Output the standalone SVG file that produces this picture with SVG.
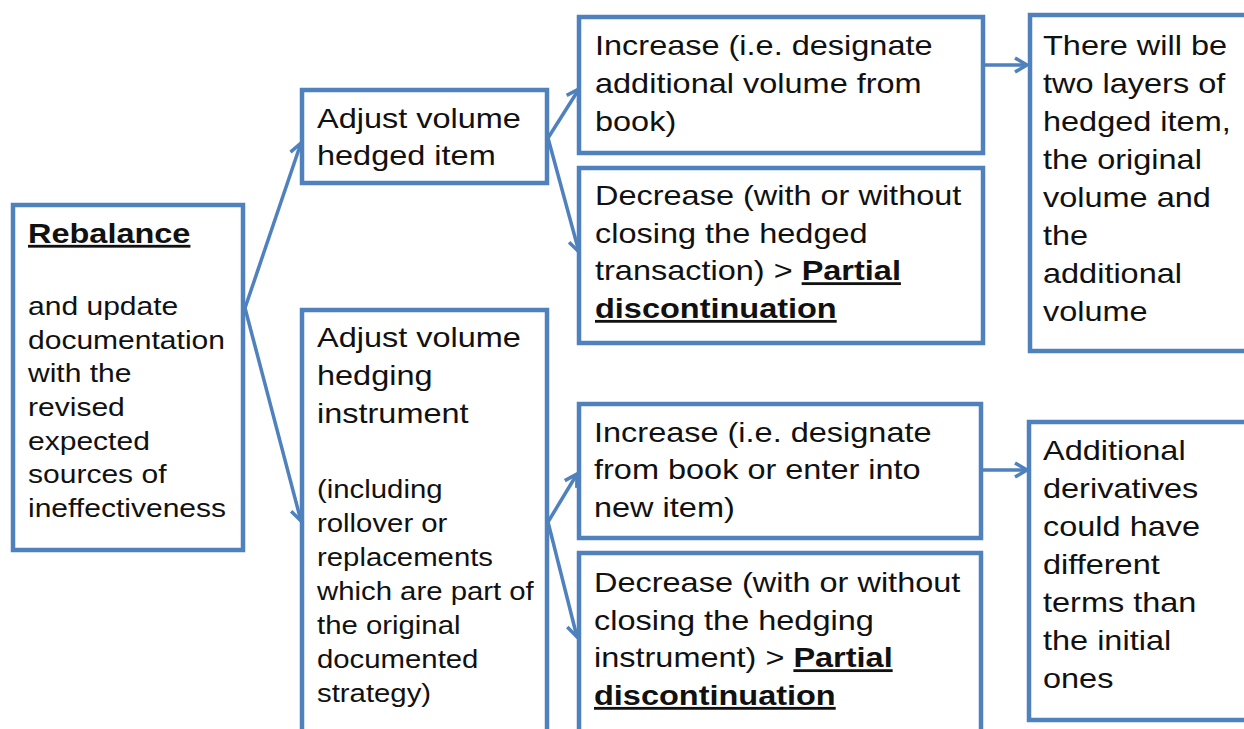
<svg xmlns="http://www.w3.org/2000/svg" width="1244" height="729" viewBox="0 0 1244 729">
<style>
.box{fill:#fff;stroke:#4f81bd;stroke-width:4.5}
.con{fill:none;stroke:#4f81bd;stroke-width:3.5;marker-end:url(#arr)}
.t{font-family:"Liberation Sans",Arial,sans-serif;fill:#111}
.big{font-size:28px}
.small{font-size:25.3px}
.small2{font-size:25.9px}
.b{font-weight:bold;text-decoration:underline}
</style>
<defs>
<marker id="arr" viewBox="-15 -9 18 18" markerWidth="18" markerHeight="18" refX="0" refY="0" orient="auto" markerUnits="userSpaceOnUse">
<path d="M-12,-7 L0,0 L-12,7" fill="none" stroke="#4f81bd" stroke-width="3.5"/>
</marker>
</defs>
<rect width="1244" height="729" fill="#fff"/>
<g id="connectors">
<line class="con" x1="245" y1="308" x2="301" y2="143"/>
<line class="con" x1="245" y1="308" x2="301" y2="521"/>
<line class="con" x1="548" y1="138" x2="579" y2="89"/>
<line class="con" x1="548" y1="138" x2="579" y2="252"/>
<line class="con" x1="985" y1="65" x2="1027" y2="65"/>
<line class="con" x1="548" y1="522" x2="577" y2="474"/>
<line class="con" x1="548" y1="522" x2="577" y2="637"/>
<line class="con" x1="983" y1="470" x2="1027" y2="470"/>
</g>
<g id="rebalance">
<rect class="box" x="13" y="205" width="230" height="345"/>
<text class="t" transform="translate(28,243) scale(1.16,1)"><tspan class="big b" x="0">Rebalance</tspan></text>
<text class="t small2" transform="translate(28,315) scale(1.16,1)"><tspan x="0">and update</tspan><tspan x="0" dy="33.7">documentation</tspan><tspan x="0" dy="33.7">with the</tspan><tspan x="0" dy="33.7">revised</tspan><tspan x="0" dy="33.7">expected</tspan><tspan x="0" dy="33.7">sources of</tspan><tspan x="0" dy="33.7">ineffectiveness</tspan></text>
</g>
<g id="hedged-item">
<rect class="box" x="302" y="90" width="245" height="93"/>
<text class="t big" transform="translate(317,128) scale(1.16,1)"><tspan x="0">Adjust volume</tspan><tspan x="0" dy="37.5">hedged item</tspan></text>
</g>
<g id="hedging-instrument">
<rect class="box" x="302" y="310" width="245" height="440"/>
<text class="t big" transform="translate(317,347) scale(1.16,1)"><tspan x="0">Adjust volume</tspan><tspan x="0" dy="38">hedging</tspan><tspan x="0" dy="38">instrument</tspan></text>
<text class="t small" transform="translate(317,498) scale(1.16,1)"><tspan x="0">(including</tspan><tspan x="0" dy="34">rollover or</tspan><tspan x="0" dy="34">replacements</tspan><tspan x="0" dy="34">which are part of</tspan><tspan x="0" dy="34">the original</tspan><tspan x="0" dy="34">documented</tspan><tspan x="0" dy="34">strategy)</tspan></text>
</g>
<g id="increase-item">
<rect class="box" x="579" y="17" width="404" height="136"/>
<text class="t big" transform="translate(595,55) scale(1.16,1)"><tspan x="0">Increase (i.e. designate</tspan><tspan x="0" dy="38">additional volume from</tspan><tspan x="0" dy="38">book)</tspan></text>
</g>
<g id="decrease-item">
<rect class="box" x="579" y="168" width="404" height="175"/>
<text class="t big" transform="translate(595,205) scale(1.16,1)"><tspan x="0">Decrease (with or without</tspan><tspan x="0" dy="37.7">closing the hedged</tspan><tspan x="0" dy="37.7">transaction) &gt; <tspan class="b">Partial</tspan></tspan><tspan x="0" dy="37.7" class="b">discontinuation</tspan></text>
</g>
<g id="two-layers">
<rect class="box" x="1030" y="15" width="230" height="336"/>
<text class="t big" transform="translate(1043,55) scale(1.16,1)"><tspan x="0">There will be</tspan><tspan x="0" dy="38">two layers of</tspan><tspan x="0" dy="38">hedged item,</tspan><tspan x="0" dy="38">the original</tspan><tspan x="0" dy="38">volume and</tspan><tspan x="0" dy="38">the</tspan><tspan x="0" dy="38">additional</tspan><tspan x="0" dy="38">volume</tspan></text>
</g>
<g id="increase-instrument">
<rect class="box" x="579" y="404" width="402" height="134"/>
<text class="t big" transform="translate(594,442) scale(1.16,1)"><tspan x="0">Increase (i.e. designate</tspan><tspan x="0" dy="37.5">from book or enter into</tspan><tspan x="0" dy="37.5">new item)</tspan></text>
</g>
<g id="decrease-instrument">
<rect class="box" x="579" y="553" width="402" height="200"/>
<text class="t big" transform="translate(594,592) scale(1.16,1)"><tspan x="0">Decrease (with or without</tspan><tspan x="0" dy="37.7">closing the hedging</tspan><tspan x="0" dy="37.7">instrument) &gt; <tspan class="b">Partial</tspan></tspan><tspan x="0" dy="37.7" class="b">discontinuation</tspan></text>
</g>
<g id="additional-derivatives">
<rect class="box" x="1029" y="422" width="230" height="298"/>
<text class="t big" transform="translate(1043,460) scale(1.16,1)"><tspan x="0">Additional</tspan><tspan x="0" dy="38">derivatives</tspan><tspan x="0" dy="38">could have</tspan><tspan x="0" dy="38">different</tspan><tspan x="0" dy="38">terms than</tspan><tspan x="0" dy="38">the initial</tspan><tspan x="0" dy="38">ones</tspan></text>
</g>
</svg>
